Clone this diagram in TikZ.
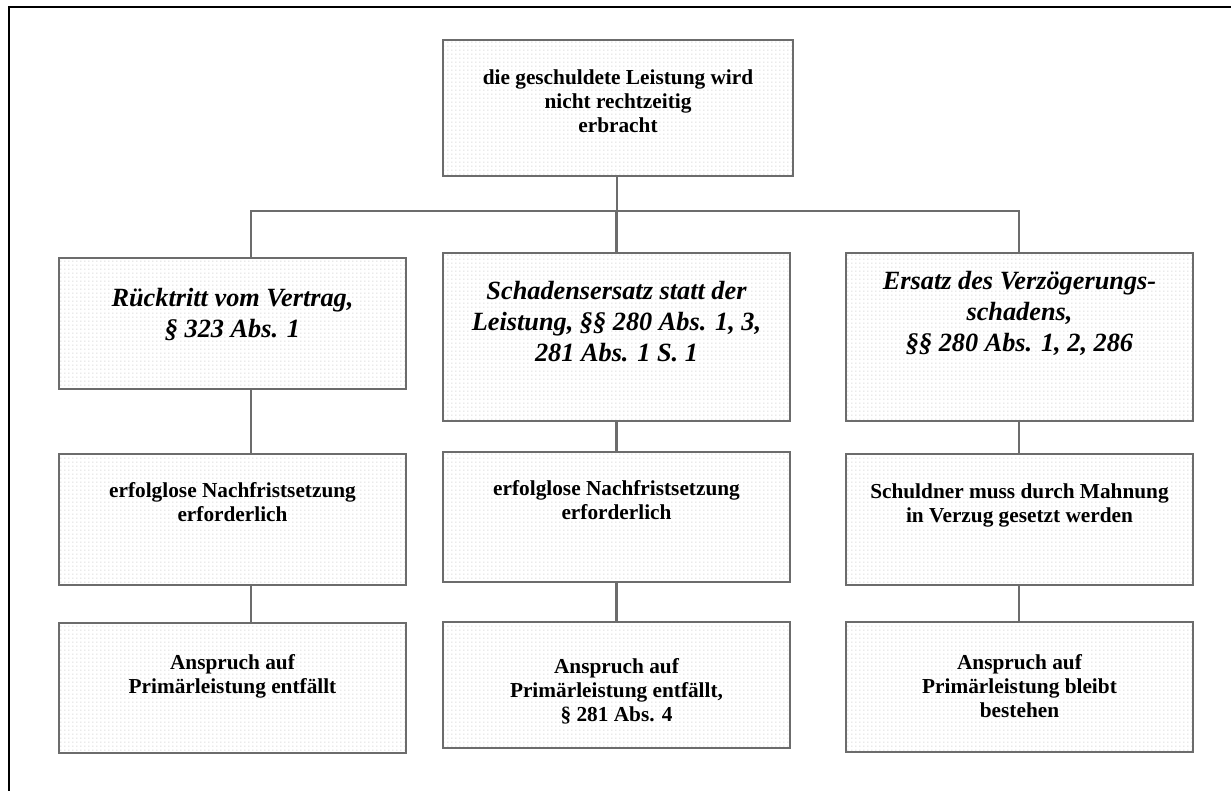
\documentclass[tikz,border=0pt]{standalone}
\usepackage{fontspec}
\setmainfont{Liberation Serif}
\usetikzlibrary{patterns.meta}

\definecolor{boxgray}{RGB}{108,108,108}
\definecolor{dotgray}{RGB}{196,196,196}

% sparse dot raster used as box filling
\tikzdeclarepattern{
  name=softdots,
  type=uncolored,
  bounding box={(0pt,0pt) and (4.3pt,4.3pt)},
  tile size={(4.3pt,4.3pt)},
  code={\fill (2.15pt,2.15pt) circle (0.65pt);}
}

\tikzset{
  box/.style={draw=boxgray, line width=2.2pt, pattern=softdots,
    pattern color=dotgray, inner sep=0pt, minimum width=347pt},
  txt/.style={anchor=north, align=center, inner sep=0pt,
    font=\bfseries\fontsize{21.3}{24}\selectfont},
  head/.style={anchor=north, align=center, inner sep=0pt,
    font=\bfseries\itshape\fontsize{26.3}{31}\selectfont},
  link/.style={draw=boxgray, line width=2.3pt}
}

\begin{document}
\begin{tikzpicture}[x=1pt, y=-1pt]
\useasboundingbox (0,0) rectangle (1231,790);

% page frame (left and top edge)
\draw[line width=2.5pt, line cap=rect] (9,795) -- (9,7) -- (1240,7);

% boxes
\node[box, minimum width=350pt, minimum height=136pt] (top) at (618,108) {};

\node[box, minimum height=131pt] (b11) at (232.5,323.5) {};
\node[box, minimum height=131pt] (b12) at (232.5,519.5) {};
\node[box, minimum height=130pt] (b13) at (232.5,688) {};

\node[box, minimum height=168pt] (b21) at (616.5,337) {};
\node[box, minimum height=130pt] (b22) at (616.5,517) {};
\node[box, minimum height=126pt] (b23) at (616.5,685) {};

\node[box, minimum height=168pt] (b31) at (1019.5,337) {};
\node[box, minimum height=131pt] (b32) at (1019.5,519.5) {};
\node[box, minimum height=130pt] (b33) at (1019.5,687) {};

% texts
\node[txt] (ttop) at ([yshift=-30.5pt]top.north)
  {die geschuldete Leistung wird\\nicht rechtzeitig\\erbracht};

\node[head] (t11) at ([yshift=-30.9pt]b11.north)
  {Rücktritt vom Vertrag,\\§ 323 Abs. 1};
\node[txt] (t12) at ([yshift=-29.5pt]b12.north)
  {erfolglose Nachfristsetzung\\erforderlich};
\node[txt] (t13) at ([yshift=-32.5pt]b13.north)
  {Anspruch auf\\Primärleistung entfällt};

\node[head] (t21) at ([yshift=-28.9pt]b21.north)
  {Schadensersatz statt der\\Leistung, §§ 280 Abs. 1, 3,\\281 Abs. 1 S. 1};
\node[txt] (t22) at ([yshift=-29.5pt]b22.north)
  {erfolglose Nachfristsetzung\\erforderlich};
\node[txt] (t23) at ([yshift=-37.5pt]b23.north)
  {Anspruch auf\\Primärleistung entfällt,\\§ 281 Abs. 4};

\node[head] (t31) at ([yshift=-18.9pt]b31.north)
  {Ersatz des Verzögerungs-\\schadens,\\§§ 280 Abs. 1, 2, 286};
\node[txt] (t32) at ([yshift=-30.5pt]b32.north)
  {Schuldner muss durch Mahnung\\in Verzug gesetzt werden};
\node[txt] (t33) at ([yshift=-33.5pt]b33.north)
  {Anspruch auf\\Primärleistung bleibt\\bestehen};

% connectors
\coordinate (bus) at (617,211);
\draw[link] ([xshift=-1pt]top.south) -- ([xshift=-1pt]top.south |- bus);
\draw[link] ([xshift=18.5pt]b11.north) |- ([xshift=-0.5pt]b31.north |- bus) -- ([xshift=-0.5pt]b31.north);
\draw[link] (b21.north) -- (b21.north |- bus);

\draw[link] ([xshift=18.5pt]b11.south) -- ([xshift=18.5pt]b12.north);
\draw[link] ([xshift=18.5pt]b12.south) -- ([xshift=18.5pt]b13.north);
\draw[link] (b21.south) -- (b22.north);
\draw[link] (b22.south) -- (b23.north);
\draw[link] ([xshift=-0.5pt]b31.south) -- ([xshift=-0.5pt]b32.north);
\draw[link] ([xshift=-0.5pt]b32.south) -- ([xshift=-0.5pt]b33.north);
\end{tikzpicture}
\end{document}
